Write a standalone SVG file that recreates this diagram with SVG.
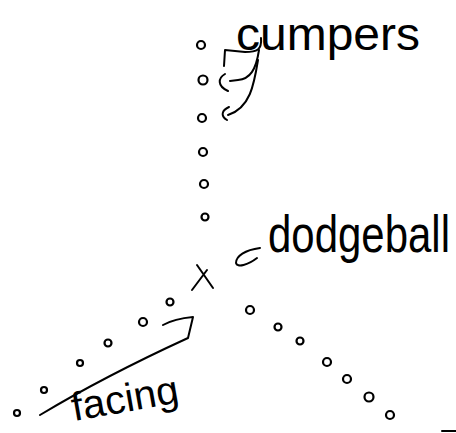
<svg xmlns="http://www.w3.org/2000/svg" width="456" height="433" viewBox="0 0 456 433">
<style>
.c{fill:none;stroke:#000;stroke-width:2.2}
.s{fill:none;stroke:#000;stroke-width:2;stroke-linecap:round;stroke-linejoin:round}
.t{font-family:"Liberation Sans",Arial,sans-serif;fill:#000}
</style>
<rect width="456" height="433" fill="#fff"/>
<g id="campers-label"><text class="t" x="236" y="50" font-size="46" textLength="184" lengthAdjust="spacingAndGlyphs">cumpers</text></g>
<g id="dodgeball-label"><text class="t" x="0" y="0" font-size="41" textLength="182" lengthAdjust="spacingAndGlyphs" transform="translate(268 252) scale(1 1.27)">dodgeball</text></g>
<g id="facing-label"><text class="t" x="74" y="421" font-size="40" textLength="108" lengthAdjust="spacingAndGlyphs" transform="rotate(-10 74 421)">facing</text></g>
<g id="dodgeball-x"><path class="s" d="M197,265 L213,288 M207,270 L192,290"/></g>
<g id="campers-column">
<g id="c1"><circle class="c" cx="201" cy="45" r="4"/></g>
<g id="c2"><circle class="c" cx="203" cy="80" r="4.5"/></g>
<g id="c3"><circle class="c" cx="202" cy="118" r="4"/></g>
<g id="c4"><circle class="c" cx="203" cy="152" r="4"/></g>
<g id="c5"><circle class="c" cx="204" cy="184" r="4"/></g>
<g id="c6"><circle class="c" cx="205" cy="217" r="3.5"/></g>
</g>
<g id="left-line">
<g id="l1"><circle class="c" cx="17" cy="413" r="3"/></g>
<g id="l2"><circle class="c" cx="44" cy="390" r="3"/></g>
<g id="l3"><circle class="c" cx="80" cy="363" r="3"/></g>
<g id="l4"><circle class="c" cx="108" cy="343" r="3.5"/></g>
<g id="l5"><circle class="c" cx="143" cy="322" r="4"/></g>
<g id="l6"><circle class="c" cx="170" cy="302" r="3.5"/></g>
</g>
<g id="right-line">
<g id="r1"><circle class="c" cx="250" cy="310" r="4"/></g>
<g id="r2"><circle class="c" cx="278" cy="327" r="3.5"/></g>
<g id="r3"><circle class="c" cx="300" cy="341" r="3.5"/></g>
<g id="r4"><circle class="c" cx="327" cy="362" r="4"/></g>
<g id="r5"><circle class="c" cx="347" cy="379" r="4"/></g>
<g id="r6"><circle class="c" cx="369" cy="397" r="4.5"/></g>
<g id="r7"><circle class="c" cx="390" cy="415" r="4"/></g>
</g>
<g id="connectors">
<path class="s" d="M261,38 C262,50 257,52 245,52 L225,50 L224,66"/>
<path class="s" d="M259,50 C256,70 250,79 238,80 L230,81 M225,74 C218,78 217,86 228,91"/>
<path class="s" d="M258,60 C254,85 250,108 228,115 M229,107 C222,110 220,116 227,120"/>
<path class="s" d="M260,248 C245,250 236,256 236,263 C237,268 248,265 257,258"/>
<path class="s" d="M40,415 C90,385 140,360 188,338 L193,317 C182,318 172,320 163,325"/>
<path class="s" d="M442,431 L456,431"/>
</g>
</svg>
